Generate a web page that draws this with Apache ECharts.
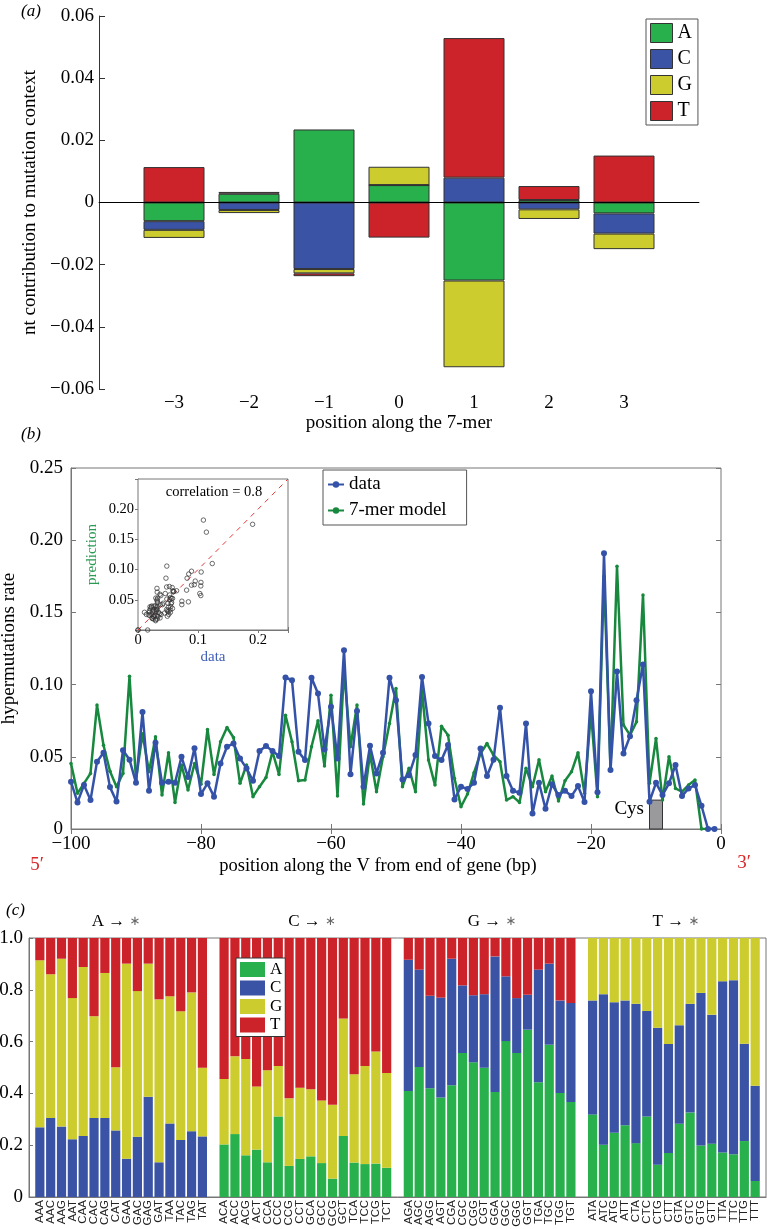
<!DOCTYPE html>
<html><head><meta charset="utf-8">
<script src="https://cdn.jsdelivr.net/npm/echarts@6/dist/echarts.min.js"></script>
<style>html,body{margin:0;padding:0;background:#fff}#c{width:767px;height:1229px}</style>
</head><body><div id="c"></div><script>
// ---------- panel (a): nt contribution to mutation context ----------
const posLabels = ['−3', '−2', '−1', '0', '1', '2', '3'];
const contribA = [-0.0060, 0.0028, 0.0235, 0.0056, -0.0251, 0.0008, -0.0035];
const contribC = [-0.0028, -0.0024, -0.0214, 0, 0.0080, -0.0022, -0.0065];
const contribG = [-0.0026, -0.0010, -0.0014, 0.0059, -0.0279, -0.0031, -0.0050];
const contribT = [0.0114, 0.0006, -0.0009, -0.0113, 0.0449, 0.0045, 0.0151];

// ---------- panel (b): hypermutation rate along V (positions -100 .. -1) ----------
const firstPos = -100;
const rateData = [
0.0327,0.0184,0.0304,0.0200,0.0466,0.0528,0.0290,0.0190,0.0546,0.0480,
0.0320,0.0810,0.0265,0.0597,0.0320,0.0327,0.0320,0.0500,0.0360,0.0560,
0.0242,0.0316,0.0224,0.0454,0.0570,0.0592,0.0489,0.0420,0.0334,0.0540,
0.0574,0.0540,0.0505,0.1049,0.1030,0.0535,0.0477,0.1047,0.0938,0.0551,
0.0846,0.0489,0.1238,0.0380,0.0818,0.0293,0.0576,0.0385,0.0528,0.1047,
0.0892,0.0343,0.0373,0.0512,0.1053,0.0731,0.0505,0.0477,0.0581,0.0205,
0.0293,0.0277,0.0320,0.0558,0.0367,0.0480,0.0840,0.0367,0.0265,0.0251,
0.0730,0.0108,0.0320,0.0140,0.0310,0.0235,0.0265,0.0228,0.0297,0.0187,
0.0954,0.0254,0.1910,0.0408,0.1090,0.0523,0.0643,0.0892,0.1140,0.0189,
0.0320,0.0235,0.0316,0.0443,0.0228,0.0281,0.0304,0.0161,0,0];
const rateModel = [
0.0454,0.0247,0.0316,0.0385,0.0858,0.0580,0.0400,0.0293,0.0385,0.1058,
0.0340,0.0660,0.0396,0.0638,0.0235,0.0528,0.0184,0.0443,0.0270,0.0454,
0.0310,0.0689,0.0378,0.0604,0.0703,0.0634,0.0316,0.0443,0.0224,0.0293,
0.0357,0.0535,0.0378,0.0788,0.0604,0.0334,0.0339,0.0570,0.0750,0.0436,
0.0927,0.0228,0.1100,0.0570,0.0858,0.0173,0.0523,0.0258,0.0500,0.0730,
0.0973,0.0293,0.0420,0.0258,0.0960,0.0477,0.0304,0.0712,0.0650,0.0350,
0.0154,0.0242,0.0390,0.0523,0.0592,0.0512,0.0466,0.0200,0.0224,0.0184,
0.0420,0.0293,0.0480,0.0258,0.0367,0.0194,0.0334,0.0396,0.0528,0.0247,
0.0810,0.0224,0.1750,0.0420,0.1820,0.0720,0.0650,0.0742,0.1620,0.0316,
0.0627,0.0200,0.0500,0.0281,0.0258,0.0304,0.0339,0,0,0];
const cysRange = [-11, -9];
const cysHeight = 0.02;

// ---------- panel (c): substitution spectra per 3-mer context ----------
const ctxA = ['AAA','AAC','AAG','AAT','CAA','CAC','CAG','CAT','GAA','GAC','GAG','GAT','TAA','TAC','TAG','TAT'];
const ctxC = ['ACA','ACC','ACG','ACT','CCA','CCC','CCG','CCT','GCA','GCC','GCG','GCT','TCA','TCC','TCG','TCT'];
const ctxG = ['AGA','AGC','AGG','AGT','CGA','CGC','CGG','CGT','GGA','GGC','GGG','GGT','TGA','TGC','TGG','TGT'];
const ctxT = ['ATA','ATC','ATG','ATT','CTA','CTC','CTG','CTT','GTA','GTC','GTG','GTT','TTA','TTC','TTG','TTT'];
// A -> *
const aToC = [.269,.305,.272,.223,.236,.305,.305,.257,.148,.233,.387,.134,.284,.220,.254,.234];
const aToG = [.645,.555,.648,.545,.652,.393,.560,.244,.753,.562,.514,.629,.491,.497,.536,.265];
const aToT = [.086,.140,.080,.232,.112,.302,.135,.499,.099,.205,.099,.237,.225,.283,.210,.501];
// C -> *
const cToA = [.203,.243,.161,.183,.134,.311,.120,.147,.157,.131,.071,.236,.133,.127,.129,.113];
const cToG = [.253,.300,.372,.244,.355,.195,.261,.275,.259,.242,.285,.453,.341,.379,.433,.366];
const cToT = [.544,.457,.467,.573,.511,.494,.619,.578,.584,.627,.644,.311,.526,.494,.438,.521];
// G -> *
const gToA = [.409,.502,.420,.384,.431,.556,.520,.499,.405,.602,.556,.646,.443,.588,.402,.367];
const gToC = [.507,.376,.357,.386,.489,.261,.259,.284,.524,.250,.212,.135,.435,.313,.357,.382];
const gToT = [.084,.122,.223,.230,.080,.183,.221,.217,.071,.148,.232,.219,.122,.099,.241,.251];
// T -> *
const tToA = [.319,.202,.248,.277,.208,.311,.125,.170,.283,.326,.199,.206,.172,.165,.216,.062];
const tToC = [.440,.581,.504,.482,.538,.407,.528,.421,.380,.420,.589,.498,.661,.672,.376,.368];
const tToG = [.241,.217,.248,.241,.254,.282,.347,.409,.337,.254,.212,.296,.167,.163,.408,.570];
const groupFrom = ['A', 'C', 'G', 'T'];

// ---------- styling ----------
const SERIF = 'Liberation Serif';
const colA = '#27b04b', colC = '#3a53a4', colG = '#cccc2e', colT = '#cc2229';
const lineBlue = '#3352a8', lineGreen = '#17883d';

function fmtSigned(v, d) {
  if (Math.abs(v) < 1e-9) return '0';
  return (v < 0 ? '−' : '') + Math.abs(v).toFixed(d);
}
const padA = arr => [null].concat(arr, [null]);
const nullArr = n => new Array(n).fill(null);
// panel c: 69 slots = edge, 16, gap, 16, gap, 16, gap, 16, edge
function cRow(a, c, g, t) {
  return [null].concat(a, [null], c, [null], g, [null], t, [null]);
}
const cCats = cRow(ctxA, ctxC, ctxG, ctxT).map(v => v === null ? '' : v);

const chart = echarts.init(document.getElementById('c'), null, {renderer: 'canvas'});

const axisGray = '#777';
const baseLabel = {fontFamily: SERIF, fontSize: 19, color: '#000'};
const mid = {textAlign: 'center', align: 'center', textVerticalAlign: 'middle', verticalAlign: 'middle'};

const titleX = [116, 312, 492, 676];
const titleGraphics = groupFrom.map((g, i) => ({
  type: 'text', x: titleX[i], y: 922,
  style: Object.assign({
    text: g + ' → {s|∗}', font: '17px "Liberation Serif"', fill: '#000',
    rich: {s: {fontSize: 13, fontFamily: 'DejaVu Sans', fill: '#666', color: '#666'}}
  }, mid)
}));

const option = {
  animation: false,
  backgroundColor: '#fff',
  textStyle: {fontFamily: SERIF},
  grid: [
    {left: 99, top: 16, width: 600, height: 373, outerBoundsMode: 'none', containLabel: false},
    {left: 71, top: 468, width: 650, height: 361, show: true, borderColor: axisGray, borderWidth: 1, outerBoundsMode: 'none', containLabel: false},
    {left: 138, top: 479, width: 150, height: 151, show: true, backgroundColor: '#fff', borderColor: axisGray, borderWidth: 1, outerBoundsMode: 'none', containLabel: false, z: 5},
    {left: 29, top: 938, width: 737, height: 259, show: true, borderColor: axisGray, borderWidth: 1, outerBoundsMode: 'none', containLabel: false}
  ],
  xAxis: [
    { gridIndex: 0, type: 'category', data: [''].concat(posLabels, ['']), boundaryGap: false,
      axisLine: {show: true, lineStyle: {color: '#333', width: 1}},
      axisTick: {show: true, inside: true, length: 6, lineStyle: {color: '#333'}, interval: (i) => i > 0 && i < 8},
      axisLabel: Object.assign({}, baseLabel, {margin: 5, interval: 0}),
      splitLine: {show: false},
      name: 'position along the 7-mer', nameLocation: 'middle', nameGap: 21,
      nameTextStyle: {fontFamily: SERIF, fontSize: 19, color: '#000'} },
    { gridIndex: 1, type: 'value', min: -100, max: 0, interval: 20,
      axisLine: {show: true, onZero: false, lineStyle: {color: axisGray}},
      axisTick: {show: true, inside: true, length: 5, lineStyle: {color: axisGray}},
      axisLabel: Object.assign({}, baseLabel, {margin: 6, formatter: v => fmtSigned(v, 0)}),
      splitLine: {show: false} },
    { gridIndex: 1, type: 'value', position: 'top', min: -100, max: 0, interval: 20,
      axisLine: {show: false}, axisTick: {show: true, inside: true, length: 5, lineStyle: {color: axisGray}},
      axisLabel: {show: false}, splitLine: {show: false} },
    { gridIndex: 2, type: 'value', min: 0, max: 0.25, interval: 0.1,
      axisLine: {show: true, onZero: false, lineStyle: {color: axisGray}},
      axisTick: {show: true, inside: true, length: 3, lineStyle: {color: axisGray}},
      axisLabel: {fontFamily: SERIF, fontSize: 14.5, color: '#000', margin: 3,
        formatter: v => (v > 0.24 ? '' : (v === 0 ? '0' : v.toFixed(1)))},
      splitLine: {show: false},
      name: 'data', nameLocation: 'middle', nameGap: 20,
      nameTextStyle: {fontFamily: SERIF, fontSize: 15, color: '#3f5fb8'} },
    { gridIndex: 2, type: 'value', position: 'top', min: 0, max: 0.25, interval: 0.1,
      axisLine: {show: false}, axisTick: {show: true, inside: true, length: 3, lineStyle: {color: axisGray}},
      axisLabel: {show: false}, splitLine: {show: false} },
    { gridIndex: 3, type: 'category', data: cCats, boundaryGap: false,
      axisLine: {show: true, lineStyle: {color: axisGray}},
      axisTick: {show: false},
      axisLabel: {fontFamily: 'Liberation Sans', fontSize: 11.5, color: '#222', rotate: 90, margin: 3, interval: 0},
      splitLine: {show: false} }
  ],
  yAxis: [
    { gridIndex: 0, type: 'value', min: -0.06, max: 0.06, interval: 0.02,
      axisLine: {show: true, lineStyle: {color: '#333'}},
      axisTick: {show: true, inside: true, length: 6, lineStyle: {color: '#333'}},
      axisLabel: Object.assign({}, baseLabel, {margin: 5, formatter: v => fmtSigned(v, 2)}),
      splitLine: {show: false},
      name: 'nt contribution to mutation context', nameLocation: 'middle', nameGap: 57,
      nameTextStyle: {fontFamily: SERIF, fontSize: 19, color: '#000'} },
    { gridIndex: 1, type: 'value', min: 0, max: 0.25, interval: 0.05,
      axisLine: {show: true, onZero: false, lineStyle: {color: axisGray}},
      axisTick: {show: true, inside: true, length: 5, lineStyle: {color: axisGray}},
      axisLabel: Object.assign({}, baseLabel, {margin: 8, formatter: v => (v === 0 ? '0' : v.toFixed(2))}),
      splitLine: {show: false},
      name: 'hypermutations rate', nameLocation: 'middle', nameGap: 47,
      nameTextStyle: {fontFamily: SERIF, fontSize: 19, color: '#000'} },
    { gridIndex: 1, type: 'value', position: 'right', min: 0, max: 0.25, interval: 0.05,
      axisLine: {show: false}, axisTick: {show: true, inside: true, length: 5, lineStyle: {color: axisGray}},
      axisLabel: {show: false}, splitLine: {show: false} },
    { gridIndex: 2, type: 'value', min: 0, max: 0.25, interval: 0.05,
      axisLine: {show: true, onZero: false, lineStyle: {color: axisGray}},
      axisTick: {show: true, inside: true, length: 3, lineStyle: {color: axisGray}},
      axisLabel: {fontFamily: SERIF, fontSize: 14.5, color: '#000', margin: 4,
        formatter: v => (v === 0 || v > 0.24 ? '' : v.toFixed(2))},
      splitLine: {show: false},
      name: 'prediction', nameLocation: 'middle', nameGap: 38,
      nameTextStyle: {fontFamily: SERIF, fontSize: 15, color: '#2a9a55'} },
    { gridIndex: 2, type: 'value', position: 'right', min: 0, max: 0.25, interval: 0.05,
      axisLine: {show: false}, axisTick: {show: true, inside: true, length: 3, lineStyle: {color: axisGray}},
      axisLabel: {show: false}, splitLine: {show: false} },
    { gridIndex: 3, type: 'value', min: 0, max: 1, interval: 0.2,
      axisLine: {show: true, lineStyle: {color: axisGray}},
      axisTick: {show: true, inside: true, length: 4, lineStyle: {color: axisGray}},
      axisLabel: Object.assign({}, baseLabel, {margin: 6, formatter: v => (v === 0 ? '0' : v.toFixed(1))}),
      splitLine: {show: false} }
  ],
  legend: [
    { left: 646, top: 19, orient: 'vertical', icon: 'rect', itemWidth: 22, itemHeight: 19, itemGap: 6,
      padding: [4, 6, 4, 4], borderColor: '#555', borderWidth: 1, backgroundColor: '#fff',
      textStyle: {fontFamily: SERIF, fontSize: 20, color: '#000'},
      data: ['A', 'C', 'G', 'T'].map((n, i) => ({name: n, itemStyle: {color: [colA, colC, colG, colT][i], borderColor: '#333', borderWidth: 1}})) },
    { left: 323, top: 470, orient: 'vertical', itemWidth: 16, itemHeight: 8, itemGap: 7,
      padding: [5, 20, 5, 4], borderColor: '#555', borderWidth: 1, backgroundColor: '#fff',
      textStyle: {fontFamily: SERIF, fontSize: 19, color: '#000'},
      data: ['data', '7-mer model'] },
    { left: 236, top: 958, orient: 'vertical', icon: 'rect', itemWidth: 25, itemHeight: 15, itemGap: 1.5,
      padding: [3, 3, 3, 4], borderColor: '#333', borderWidth: 1, backgroundColor: '#fff',
      textStyle: {fontFamily: SERIF, fontSize: 17, color: '#000', lineHeight: 15},
      data: ['A', 'C', 'G', 'T'].map((n, i) => ({name: n, itemStyle: {color: [colA, colC, colG, colT][i], borderWidth: 0}})) }
  ],
  graphic: [
    {type: 'text', x: 21, y: 12, style: {text: '(a)', font: 'italic 17px "Liberation Serif"', fill: '#000', textVerticalAlign: 'middle', verticalAlign: 'middle'}},
    {type: 'text', x: 21, y: 435, style: {text: '(b)', font: 'italic 17px "Liberation Serif"', fill: '#000', textVerticalAlign: 'middle', verticalAlign: 'middle'}},
    {type: 'text', x: 6, y: 911, style: {text: '(c)', font: 'italic 17px "Liberation Serif"', fill: '#000', textVerticalAlign: 'middle', verticalAlign: 'middle'}},
    {type: 'text', x: 378, y: 866, style: Object.assign({text: 'position along the V from end of gene (bp)', font: '18.5px "Liberation Serif"', fill: '#000'}, mid)},
    {type: 'text', x: 37, y: 865, style: Object.assign({text: '5′', font: '19px "Liberation Serif"', fill: '#d8282a'}, mid)},
    {type: 'text', x: 744, y: 863, style: Object.assign({text: '3′', font: '19px "Liberation Serif"', fill: '#d8282a'}, mid)},
    {type: 'text', x: 214, y: 492, z: 100, style: Object.assign({text: 'correlation = 0.8', font: '14.5px "Liberation Serif"', fill: '#000'}, mid)}
  ].concat(titleGraphics),
  series: []
};

// panel (a) stacked bars
[['A', contribA, colA], ['C', contribC, colC], ['G', contribG, colG], ['T', contribT, colT]].forEach((s, i) => {
  const ser = {
    name: s[0], type: 'bar', xAxisIndex: 0, yAxisIndex: 0, stack: 'ctx', barWidth: 61,
    data: padA(s[1]),
    itemStyle: {color: s[2], borderColor: '#333', borderWidth: 1}
  };
  if (i === 3) {
    ser.markLine = {silent: true, symbol: ['none', 'none'], label: {show: false},
      lineStyle: {color: '#000', width: 1, type: 'solid'}, data: [{yAxis: 0}], z: 10};
  }
  option.series.push(ser);
});

// panel (b) lines
const xs = rateData.map((_, i) => firstPos + i);
option.series.push({
  name: '7-mer model', type: 'line', xAxisIndex: 1, yAxisIndex: 1,
  data: xs.map((x, i) => [x, rateModel[i]]),
  symbol: 'circle', symbolSize: 3.5, showSymbol: true,
  lineStyle: {color: lineGreen, width: 2.5}, itemStyle: {color: lineGreen}, z: 3
});
option.series.push({
  name: 'data', type: 'line', xAxisIndex: 1, yAxisIndex: 1,
  data: xs.map((x, i) => [x, rateData[i]]),
  symbol: 'circle', symbolSize: 6, showSymbol: true,
  lineStyle: {color: lineBlue, width: 2.5}, itemStyle: {color: lineBlue}, z: 4,
  markArea: {silent: true,
    itemStyle: {color: '#9a9a9c', borderColor: '#333', borderWidth: 1},
    label: {show: true, position: 'left', distance: 5, offset: [0, -6], fontFamily: SERIF, fontSize: 19, color: '#000'},
    data: [[{name: 'Cys', coord: [cysRange[0], 0]}, {coord: [cysRange[1], cysHeight]}]]}
});

// inset scatter built from the same two series
option.series.push({
  name: 'diag', type: 'line', xAxisIndex: 3, yAxisIndex: 3, data: [[0, 0], [0.25, 0.25]],
  symbol: 'none', lineStyle: {color: '#e23a3a', width: 1, type: [5, 5]}, z: 6, silent: true
});
option.series.push({
  name: 'scatter', type: 'scatter', xAxisIndex: 3, yAxisIndex: 3,
  data: rateData.map((d, i) => [d, rateModel[i]]),
  symbol: 'circle', symbolSize: 4.5,
  itemStyle: {color: 'rgba(255,255,255,0)', borderColor: '#333', borderWidth: 0.9}, z: 7, silent: true
});

// panel (c) stacked bars
const N = 16, nulls = nullArr(N);
const cSeries = [
  ['A', cRow(nulls, cToA, gToA, tToA), colA],
  ['C', cRow(aToC, nulls, gToC, tToC), colC],
  ['G', cRow(aToG, cToG, nulls, tToG), colG],
  ['T', cRow(aToT, cToT, gToT, nulls), colT]
];
cSeries.forEach(s => {
  option.series.push({
    name: s[0], type: 'bar', xAxisIndex: 5, yAxisIndex: 5, stack: 'spec', barWidth: 9.2,
    data: s[1], itemStyle: {color: s[2], borderWidth: 0}
  });
});

chart.setOption(option);
</script></body></html>
